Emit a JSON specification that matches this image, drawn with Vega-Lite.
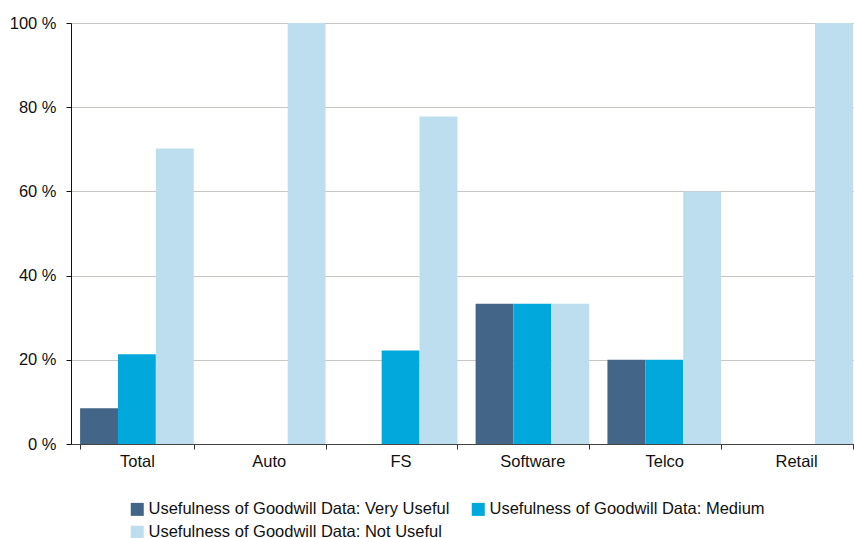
{
  "$schema": "https://vega.github.io/schema/vega-lite/v6.json",
  "width": 783,
  "height": 421,
  "autosize": "none",
  "padding": {"left": 71, "top": 23, "right": 0, "bottom": 94},
  "background": "white",
  "config": {
    "view": {"stroke": null},
    "font": "Liberation Sans"
  },
  "data": {
    "values": [
      {"category": "Total", "series": "Usefulness of Goodwill Data: Very Useful", "value": 8.5},
      {"category": "Total", "series": "Usefulness of Goodwill Data: Medium", "value": 21.3},
      {"category": "Total", "series": "Usefulness of Goodwill Data: Not Useful", "value": 70.2},
      {"category": "Auto", "series": "Usefulness of Goodwill Data: Very Useful", "value": 0},
      {"category": "Auto", "series": "Usefulness of Goodwill Data: Medium", "value": 0},
      {"category": "Auto", "series": "Usefulness of Goodwill Data: Not Useful", "value": 100},
      {"category": "FS", "series": "Usefulness of Goodwill Data: Very Useful", "value": 0},
      {"category": "FS", "series": "Usefulness of Goodwill Data: Medium", "value": 22.2},
      {"category": "FS", "series": "Usefulness of Goodwill Data: Not Useful", "value": 77.8},
      {"category": "Software", "series": "Usefulness of Goodwill Data: Very Useful", "value": 33.3},
      {"category": "Software", "series": "Usefulness of Goodwill Data: Medium", "value": 33.3},
      {"category": "Software", "series": "Usefulness of Goodwill Data: Not Useful", "value": 33.3},
      {"category": "Telco", "series": "Usefulness of Goodwill Data: Very Useful", "value": 20},
      {"category": "Telco", "series": "Usefulness of Goodwill Data: Medium", "value": 20},
      {"category": "Telco", "series": "Usefulness of Goodwill Data: Not Useful", "value": 60},
      {"category": "Retail", "series": "Usefulness of Goodwill Data: Very Useful", "value": 0},
      {"category": "Retail", "series": "Usefulness of Goodwill Data: Medium", "value": 0},
      {"category": "Retail", "series": "Usefulness of Goodwill Data: Not Useful", "value": 100}
    ]
  },
  "mark": {"type": "bar"},
  "encoding": {
    "x": {
      "field": "category",
      "type": "nominal",
      "sort": ["Total", "Auto", "FS", "Software", "Telco", "Retail"],
      "scale": {"range": [0, 791], "paddingInner": 0.138, "paddingOuter": 0.069},
      "axis": {
        "title": null,
        "labelAngle": 0,
        "labelFontSize": 16.5,
        "labelColor": "#111",
        "labelPadding": 4,
        "tickBand": "extent",
        "tickSize": 5,
        "tickColor": "#333",
        "domainColor": "#444",
        "grid": false
      }
    },
    "xOffset": {
      "field": "series",
      "type": "nominal",
      "sort": ["Usefulness of Goodwill Data: Very Useful", "Usefulness of Goodwill Data: Medium", "Usefulness of Goodwill Data: Not Useful"]
    },
    "y": {
      "field": "value",
      "type": "quantitative",
      "scale": {"domain": [0, 100], "nice": false},
      "axis": {
        "title": null,
        "values": [0, 20, 40, 60, 80, 100],
        "labelExpr": "datum.value + ' %'",
        "labelFontSize": 16.5,
        "labelColor": "#111",
        "labelPadding": 10,
        "tickSize": 5,
        "tickColor": "#111",
        "domainColor": "#111",
        "gridColor": "#c9c5c1",
        "gridWidth": 1.2
      }
    },
    "color": {
      "field": "series",
      "type": "nominal",
      "scale": {
        "domain": ["Usefulness of Goodwill Data: Very Useful", "Usefulness of Goodwill Data: Medium", "Usefulness of Goodwill Data: Not Useful"],
        "range": ["#436587", "#00a8dc", "#bcdeee"]
      },
      "legend": {
        "title": null,
        "orient": "none",
        "legendX": 58,
        "legendY": 478,
        "direction": "horizontal",
        "columns": 2,
        "columnPadding": 20,
        "rowPadding": 6,
        "symbolType": "square",
        "symbolSize": 169,
        "symbolStrokeWidth": 0,
        "symbolOpacity": 1,
        "labelFontSize": 16.5,
        "labelColor": "#111",
        "labelOffset": 3,
        "labelLimit": 400
      }
    }
  }
}
